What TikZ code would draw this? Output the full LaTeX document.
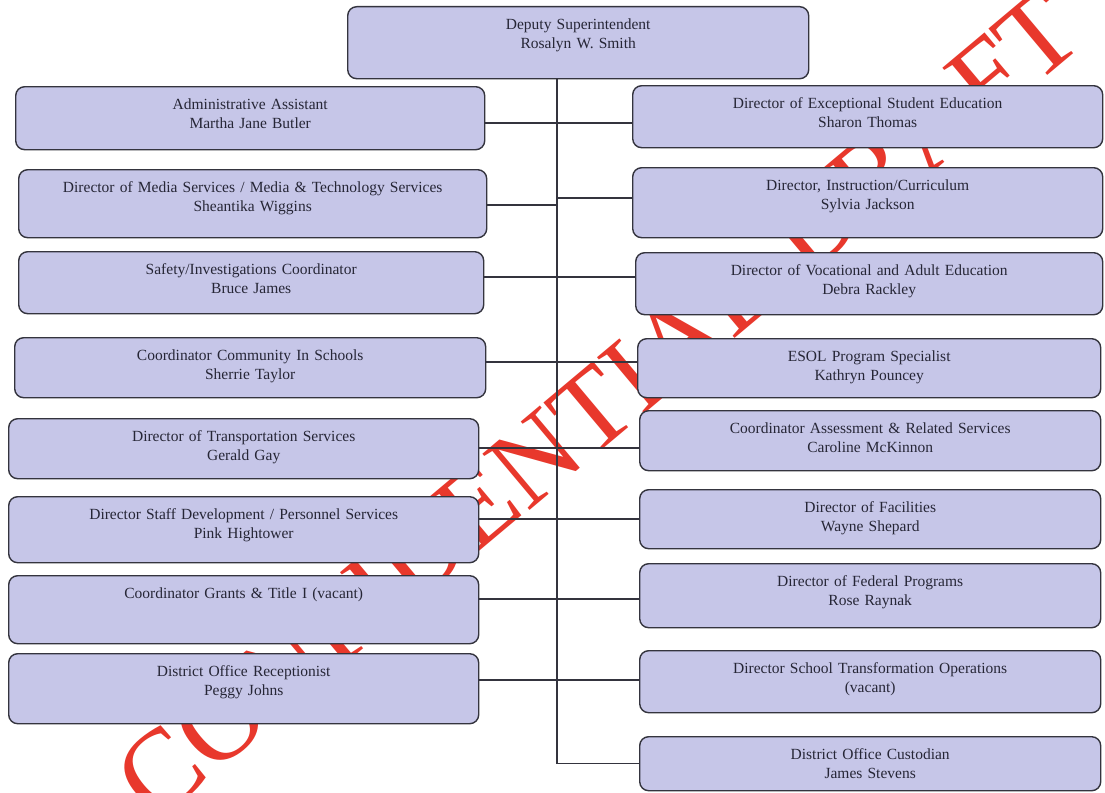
\documentclass[tikz,border=0pt]{standalone}
\usepackage{fontspec}
\setmainfont{Liberation Serif}
\definecolor{boxfill}{HTML}{C6C6E8}
\definecolor{boxline}{HTML}{34343E}
\definecolor{txt}{HTML}{262636}
\definecolor{wmred}{HTML}{E8382C}
\begin{document}
\begin{tikzpicture}[x=1pt,y=-1pt,
  orgbox/.style={draw=boxline, fill=boxfill, line width=1.4pt, rounded corners=9pt,
    anchor=north west, inner xsep=2pt, inner ysep=0pt, align=center,
    text height=23pt, text=txt, font=\fontsize{15.5}{19}\selectfont},
  link/.style={draw=boxline, line width=1.2pt},
  wm/.style={text=wmred, font=\fontsize{112}{112}\selectfont, inner sep=0pt}]
\useasboundingbox (0,0) rectangle (1105,792);
\fill[white] (0,0) rectangle (1105,792);

% watermark behind the chart
\node[wm, rotate=40] (wmark) at (598,405) {CONFIDENTIAL DRAFT};

% spine and branch heights
\coordinate (sp) at (557,0);
\coordinate (y1) at (557,123);
\coordinate (y2l) at (557,205);
\coordinate (y2r) at (557,198);
\coordinate (y3) at (557,277);
\coordinate (y4) at (557,362);
\coordinate (y5) at (557,448);
\coordinate (y6) at (557,519);
\coordinate (y7) at (557,599);
\coordinate (y8) at (557,680);

% top box
\node[orgbox, text width=457pt, text depth=49pt] (dep) at (347,6) {Deputy Superintendent\\Rosalyn W. Smith};

% left column
\node[orgbox, text width=465pt, text depth=40pt] (adm) at (15,86) {Administrative Assistant\\Martha Jane Butler};
\node[orgbox, text width=464pt, text depth=45pt] (med) at (18,169) {Director of Media Services / Media \& Technology Services\\Sheantika Wiggins};
\node[orgbox, text width=461pt, text depth=39pt] (saf) at (18,251) {Safety/Investigations Coordinator\\Bruce James};
\node[orgbox, text width=467pt, text depth=37pt] (com) at (14,337) {Coordinator Community In Schools\\Sherrie Taylor};
\node[orgbox, text width=466pt, text depth=37pt] (trn) at (8,418) {Director of Transportation Services\\Gerald Gay};
\node[orgbox, text width=466pt, text depth=43pt] (stf) at (8,496) {Director Staff Development / Personnel Services\\Pink Hightower};
\node[orgbox, text width=466pt, text depth=45pt] (grt) at (8,575) {Coordinator Grants \& Title I (vacant)};
\node[orgbox, text width=466pt, text depth=47pt] (rec) at (8,653) {District Office Receptionist\\Peggy Johns};

% right column
\node[orgbox, text width=466pt, text depth=39pt] (exc) at (632,85) {Director of Exceptional Student Education\\Sharon Thomas};
\node[orgbox, text width=466pt, text depth=47pt] (ins) at (632,167) {Director, Instruction/Curriculum\\Sylvia Jackson};
\node[orgbox, text width=463pt, text depth=39pt] (voc) at (635,252) {Director of Vocational and Adult Education\\Debra Rackley};
\node[orgbox, text width=459pt, text depth=36pt] (eso) at (637,338) {ESOL Program Specialist\\Kathryn Pouncey};
\node[orgbox, text width=457pt, text depth=37pt] (asm) at (639,410) {Coordinator Assessment \& Related Services\\Caroline McKinnon};
\node[orgbox, text width=457pt, text depth=36pt] (fac) at (639,489) {Director of Facilities\\Wayne Shepard};
\node[orgbox, text width=457pt, text depth=41pt] (fed) at (639,563) {Director of Federal Programs\\Rose Raynak};
\node[orgbox, text width=457pt, text depth=39pt] (trf) at (639,650) {Director School Transformation Operations\\(vacant)};
\node[orgbox, text width=457pt, text depth=31pt] (cus) at (639,736) {District Office Custodian\\James Stevens};

% connectors: one spine with horizontal branches
\draw[link] (dep.south -| sp) |- (cus.west);
\draw[link] (adm.east |- y1) -- (exc.west |- y1);
\draw[link] (med.east |- y2l) -- (y2l);
\draw[link] (y2r) -- (ins.west |- y2r);
\draw[link] (saf.east |- y3) -- (voc.west |- y3);
\draw[link] (com.east |- y4) -- (eso.west |- y4);
\draw[link] (trn.east |- y5) -- (asm.west |- y5);
\draw[link] (stf.east |- y6) -- (fac.west |- y6);
\draw[link] (grt.east |- y7) -- (fed.west |- y7);
\draw[link] (rec.east |- y8) -- (trf.west |- y8);
\end{tikzpicture}
\end{document}
